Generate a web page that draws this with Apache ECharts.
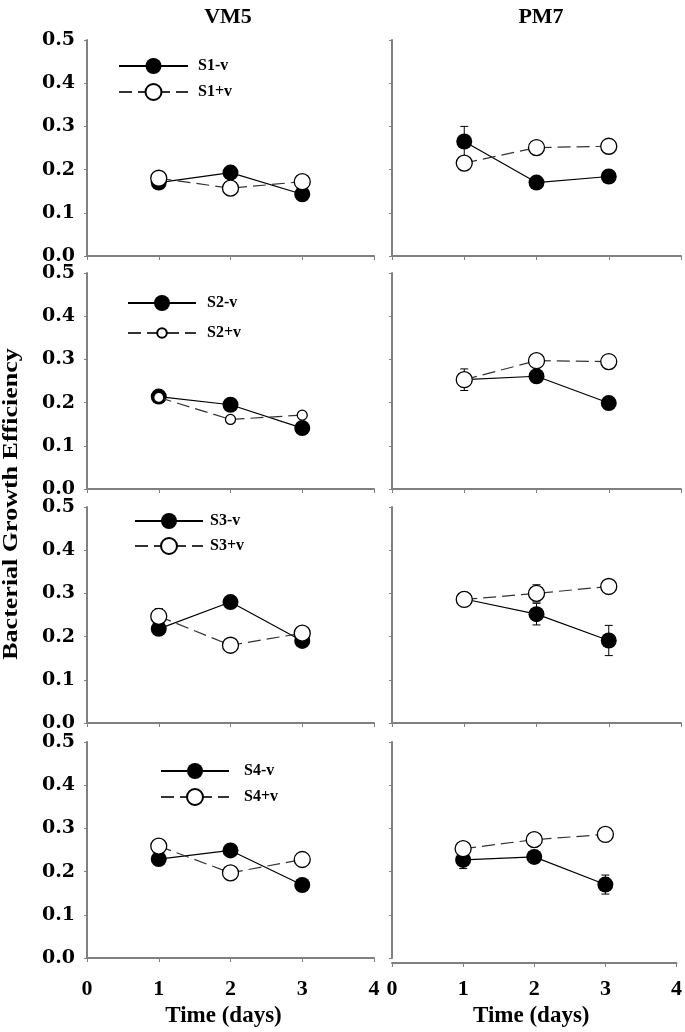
<!DOCTYPE html>
<html>
<head>
<meta charset="utf-8">
<script src="https://cdn.jsdelivr.net/npm/echarts@6/dist/echarts.min.js"></script>
<style>
html,body{margin:0;padding:0;background:#fff;}
#chart{width:685px;height:1032px;}
</style>
</head>
<body>
<div id="chart"></div>
<script>
// ---------- data ----------
const days = [1, 2, 3];
const xTicks = [0, 1, 2, 3, 4];
const yTicks = [0.0, 0.1, 0.2, 0.3, 0.4, 0.5];
const columnTitles = ['VM5', 'PM7'];
const seriesNames = [['S1-v', 'S1+v'], ['S2-v', 'S2+v'], ['S3-v', 'S3+v'], ['S4-v', 'S4+v']];

const vm5_S1_minus = [0.170, 0.193, 0.143];
const vm5_S1_plus  = [0.180, 0.157, 0.172];
const pm7_S1_minus = [0.265, 0.170, 0.184];
const pm7_S1_plus  = [0.215, 0.251, 0.254];

const vm5_S2_minus = [0.214, 0.195, 0.141];
const vm5_S2_plus  = [0.212, 0.161, 0.171];
const pm7_S2_minus = [0.253, 0.261, 0.199];
const pm7_S2_plus  = [0.253, 0.297, 0.295];

const vm5_S3_minus = [0.218, 0.280, 0.190];
const vm5_S3_plus  = [0.247, 0.180, 0.208];
const pm7_S3_minus = [0.287, 0.252, 0.191];
const pm7_S3_plus  = [0.286, 0.300, 0.316];

const vm5_S4_minus = [0.229, 0.249, 0.169];
const vm5_S4_plus  = [0.259, 0.197, 0.228];
const pm7_S4_minus = [0.227, 0.234, 0.170];
const pm7_S4_plus  = [0.253, 0.274, 0.286];

// error bars (half-width), 0 = none visible
const zero = [0, 0, 0];
const pm7_S1_minus_err = [0.035, 0, 0];
const pm7_S2_plus_err  = [0.025, 0, 0];
const vm5_S3_plus_err  = [0.018, 0, 0];
const pm7_S3_minus_err = [0, 0.025, 0.035];
const pm7_S3_plus_err  = [0, 0.020, 0];
const pm7_S4_minus_err = [0.020, 0.015, 0.022];

// panels[row][col]
const panels = [
  [{minus: vm5_S1_minus, plus: vm5_S1_plus, minusErr: zero, plusErr: zero},
   {minus: pm7_S1_minus, plus: pm7_S1_plus, minusErr: pm7_S1_minus_err, plusErr: zero}],
  [{minus: vm5_S2_minus, plus: vm5_S2_plus, minusErr: zero, plusErr: zero},
   {minus: pm7_S2_minus, plus: pm7_S2_plus, minusErr: zero, plusErr: pm7_S2_plus_err}],
  [{minus: vm5_S3_minus, plus: vm5_S3_plus, minusErr: zero, plusErr: vm5_S3_plus_err},
   {minus: pm7_S3_minus, plus: pm7_S3_plus, minusErr: pm7_S3_minus_err, plusErr: pm7_S3_plus_err}],
  [{minus: vm5_S4_minus, plus: vm5_S4_plus, minusErr: zero, plusErr: zero},
   {minus: pm7_S4_minus, plus: pm7_S4_plus, minusErr: pm7_S4_minus_err, plusErr: zero}]
];

// ---------- layout ----------
const FONT = '"Liberation Serif", "Times New Roman", serif';
const WIDEFONT = '"DejaVu Serif", serif';
const colLeft = [87, 392];
const colWidth = [287, 289];
const rowTop = [40, 273, 507, 742];
const rowHeight = 216;
const axisGray = '#808080';

// legend placement per row: [left, itemWidth, row1CenterY, row2CenterY, textGap]
const legendPos = [
  [118, 69, 68, 93, 5],
  [127, 68, 305, 331, 6],
  [134, 68, 523, 547, 2],
  [160, 68, 773, 798, 10]
];

const grids = [], xAxes = [], yAxes = [], series = [], legends = [];
let gi = 0;
for (let r = 0; r < 4; r++) {
  for (let c = 0; c < 2; c++) {
    const bottomRow = r === 3;
    grids.push({left: colLeft[c], top: rowTop[r], width: colWidth[c], height: rowHeight, containLabel: false});
    xAxes.push({
      gridIndex: gi, type: 'value', min: xTicks[0], max: xTicks[xTicks.length - 1], interval: 1,
      offset: (bottomRow && c === 1) ? 5 : 0,
      axisLine: {show: true, onZero: false, lineStyle: {color: axisGray, width: 2}},
      axisTick: {show: true, length: 4, lineStyle: {color: axisGray, width: 1}},
      splitLine: {show: false},
      axisLabel: {show: bottomRow, margin: c === 0 ? 20 : 15, color: '#000',
        fontFamily: FONT, fontWeight: 'bold', fontSize: 22},
      name: bottomRow ? 'Time (days)' : '',
      nameLocation: 'middle', nameGap: c === 0 ? 47 : 42,
      nameTextStyle: {fontFamily: FONT, fontWeight: 'bold', fontSize: 23, color: '#000',
        padding: c === 0 ? [0, 14, 0, 0] : [0, 6, 0, 0]}
    });
    yAxes.push({
      gridIndex: gi, type: 'value', min: yTicks[0], max: yTicks[yTicks.length - 1], interval: 0.1,
      axisLine: {show: true, onZero: false, lineStyle: {color: axisGray, width: 2}},
      axisTick: {show: true, length: 3, lineStyle: {color: axisGray, width: 1}},
      splitLine: {show: false},
      axisLabel: {show: c === 0, margin: 12, color: '#000', fontFamily: WIDEFONT, fontWeight: 'bold', fontSize: 19,
        formatter: v => v.toFixed(1)}
    });
    const p = panels[r][c];
    const nm = seriesNames[r];
    const plusSize = (r === 1 && c === 0) ? 10 : 16;
    const errData = [];
    days.forEach((d, i) => {
      if (p.minusErr[i] > 0) errData.push([d, p.minus[i], p.minusErr[i]]);
      if (p.plusErr[i] > 0) errData.push([d, p.plus[i], p.plusErr[i]]);
    });
    series.push({
      type: 'custom', xAxisIndex: gi, yAxisIndex: gi, z: 2, silent: true,
      data: errData,
      renderItem: function (params, api) {
        const x = api.value(0), y = api.value(1), e = api.value(2);
        const top = api.coord([x, y + e]);
        const bot = api.coord([x, y - e]);
        const cap = 4;
        const st = {stroke: '#000', lineWidth: 1};
        return {type: 'group', children: [
          {type: 'line', shape: {x1: top[0], y1: top[1], x2: bot[0], y2: bot[1]}, style: st},
          {type: 'line', shape: {x1: top[0] - cap, y1: top[1], x2: top[0] + cap, y2: top[1]}, style: st},
          {type: 'line', shape: {x1: bot[0] - cap, y1: bot[1], x2: bot[0] + cap, y2: bot[1]}, style: st}
        ]};
      }
    });
    series.push({
      name: nm[0], type: 'line', xAxisIndex: gi, yAxisIndex: gi, z: 3,
      data: days.map((d, i) => [d, p.minus[i]]),
      symbol: 'circle', symbolSize: 16,
      itemStyle: {color: '#000', borderColor: '#000', borderWidth: 0},
      lineStyle: {color: '#000', width: 1.2, type: 'solid'}
    });
    series.push({
      name: nm[1], type: 'line', xAxisIndex: gi, yAxisIndex: gi, z: 4,
      data: days.map((d, i) => [d, p.plus[i]]),
      symbol: 'circle', symbolSize: plusSize,
      itemStyle: {color: '#fff', borderColor: '#000', borderWidth: 1.3},
      lineStyle: {color: '#333', width: 1.2, type: [13, 6]}
    });
    gi++;
  }
  const lp = legendPos[r];
  const nm = seriesNames[r];
  const smallPlus = r === 1;
  [0, 1].forEach(k => {
    const ih = (k === 1 && smallPlus) ? 12 : 20;
    legends.push({
      data: [nm[k]], orient: 'horizontal', selectedMode: false,
      left: lp[0], top: (k === 0 ? lp[2] : lp[3]) - ih / 2,
      itemWidth: lp[1], itemHeight: ih, padding: 0,
      textStyle: {fontFamily: FONT, fontWeight: 'bold', fontSize: 16, color: '#000', padding: [0, 0, 0, lp[4]]}
    });
  });
}

const option = {
  animation: false,
  backgroundColor: '#fff',
  title: [
    {text: columnTitles[0], left: 223, top: 1, textAlign: 'center',
     textStyle: {fontFamily: FONT, fontWeight: 'bold', fontSize: 22, color: '#000'}},
    {text: columnTitles[1], left: 536, top: 1, textAlign: 'center',
     textStyle: {fontFamily: FONT, fontWeight: 'bold', fontSize: 22, color: '#000'}}
  ],
  graphic: [{
    type: 'text', x: 12, y: 504, rotation: Math.PI / 2, scaleX: 1.3, scaleY: 1,
    style: {text: 'Bacterial Growth Efficiency', fill: '#000',
      font: 'bold 20px ' + FONT, textAlign: 'center', textVerticalAlign: 'middle'}
  }],
  legend: legends,
  grid: grids,
  xAxis: xAxes,
  yAxis: yAxes,
  series: series
};

const chart = echarts.init(document.getElementById('chart'), null, {renderer: 'canvas'});
chart.setOption(option);
</script>
</body>
</html>
